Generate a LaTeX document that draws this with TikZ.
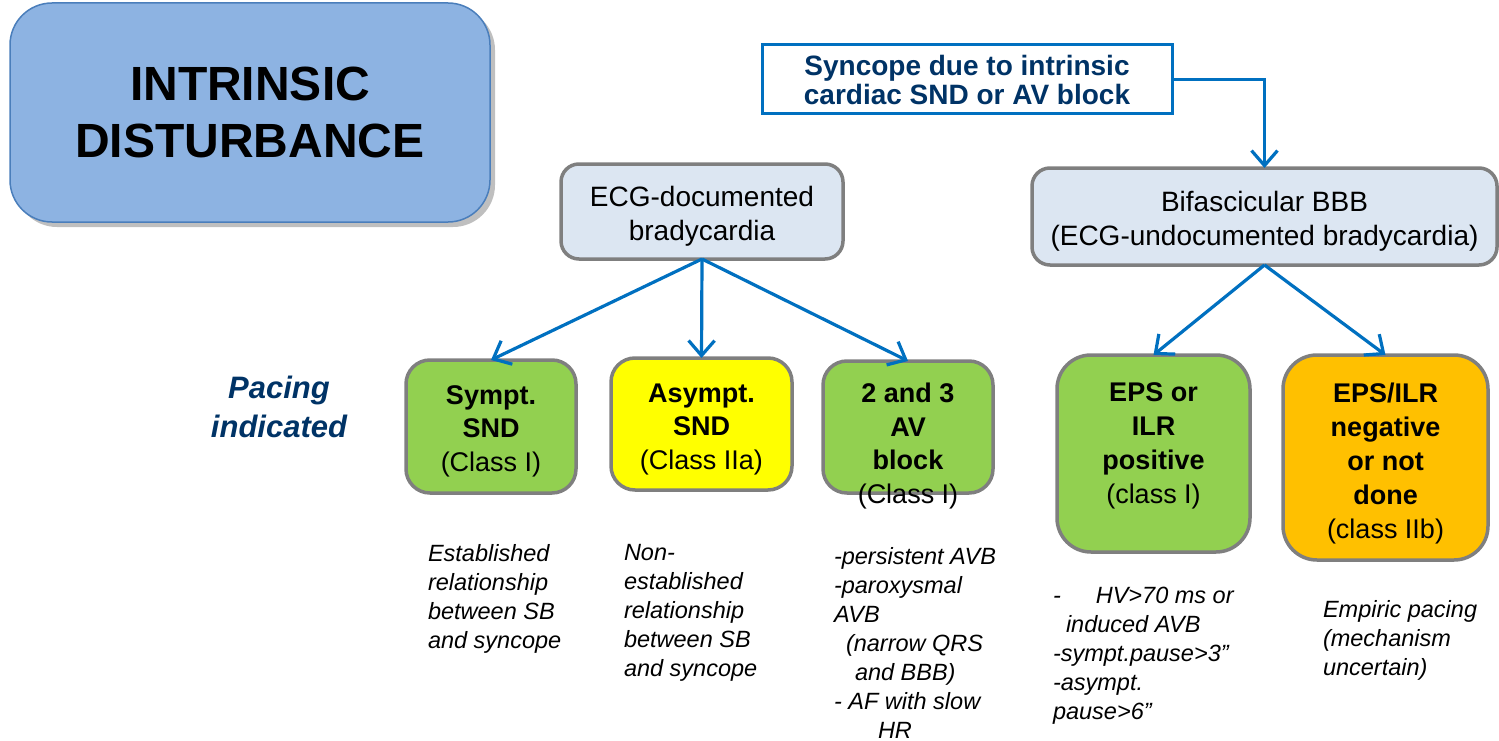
\documentclass[tikz,border=0pt]{standalone}
\usepackage{fontspec}
\setmainfont{Liberation Sans}
\usetikzlibrary{arrows.meta,shadows}
\definecolor{titlefill}{RGB}{141,179,226}
\definecolor{titleedge}{RGB}{74,126,187}
\definecolor{arrowblue}{RGB}{0,112,192}
\definecolor{navy}{RGB}{0,51,102}
\definecolor{boxgray}{RGB}{127,127,127}
\definecolor{lightfill}{RGB}{220,230,242}
\definecolor{greenfill}{RGB}{146,208,80}
\definecolor{yellowfill}{RGB}{255,255,0}
\definecolor{orangefill}{RGB}{255,192,0}
\newcommand{\upfix}[1]{\rule{0pt}{#1pt}}
\newcommand{\downfix}[1]{\rule[-#1pt]{0pt}{1pt}}
\begin{document}
\begin{tikzpicture}[x=1pt,y=-1pt,
  every node/.style={inner sep=0pt, outer sep=0pt},
  conn/.style={draw=arrowblue, line width=3.2pt, -{Straight Barb[length=15pt,width=26pt]}},
  titlebox/.style={draw=titleedge, line width=1.5pt, fill=titlefill, rounded corners=42pt,
    align=center, font=\fontsize{48}{57}\selectfont\bfseries,
    drop shadow={shadow xshift=5pt, shadow yshift=-5pt, opacity=0.25, fill=black}},
  syncbox/.style={draw=arrowblue, line width=3pt, fill=white, align=center,
    text=navy, font=\fontsize{28}{29}\selectfont\bfseries},
  graybox/.style={draw=boxgray, line width=3.5pt, fill=lightfill, rounded corners=18pt,
    align=center, font=\fontsize{28}{34}\selectfont},
  classbox/.style={draw=boxgray, line width=3.5pt, rounded corners=24pt,
    align=center, font=\fontsize{27}{33.5}\selectfont},
  bigclassbox/.style={classbox, rounded corners=34pt, font=\fontsize{27}{34}\selectfont},
  note/.style={anchor=north west, align=left, font=\fontsize{23.5}{29}\selectfont\itshape},
  sidelabel/.style={align=center, text=navy, font=\fontsize{31}{39}\selectfont\bfseries\itshape}
]
\useasboundingbox (0,0) rectangle (1499,741);

% title
\node[titlebox, minimum width=480pt, minimum height=219pt] (title) at (250,112.5) {INTRINSIC\\DISTURBANCE};

% top boxes
\node[syncbox, minimum width=410pt, minimum height=69pt] (sync) at (967,79.5)
  {Syncope due to intrinsic\\cardiac SND or AV block};
\node[graybox, minimum width=282pt, minimum height=95pt] (ecg) at (702,211.5)
  {\upfix{30}ECG-documented\\bradycardia};
\node[graybox, minimum width=465pt, minimum height=97pt] (bif) at (1264.5,216.5)
  {\upfix{30}Bifascicular BBB\\(ECG-undocumented bradycardia)};

% side label
\node[sidelabel] (pacing) at (279,406.5) {Pacing\\indicated};

% class boxes
\node[classbox, fill=greenfill, minimum width=170pt, minimum height=133pt] (sympt) at (491,426.5)
  {\upfix{28}\textbf{Sympt.}\\\textbf{SND}\\(Class I)};
\node[classbox, fill=yellowfill, minimum width=181pt, minimum height=132pt] (asympt) at (701.5,424)
  {\upfix{29}\textbf{Asympt.}\\\textbf{SND}\\(Class IIa)};
\node[classbox, fill=greenfill, minimum width=170pt, minimum height=132pt] (avb) at (908,427) {};
\node[align=center, font=\fontsize{27}{33.5}\selectfont] (avbtext) at (908,446)
  {\textbf{2 and 3}\\\textbf{AV}\\\textbf{block}\\(Class I)};
\node[bigclassbox, fill=greenfill, minimum width=193pt, minimum height=197pt] (eps) at (1153.5,453.5)
  {\textbf{EPS or}\\\textbf{ILR}\\\textbf{positive}\\(class I)\downfix{21}};
\node[bigclassbox, fill=orangefill, minimum width=205pt, minimum height=205pt] (neg) at (1385.5,457.5)
  {\upfix{32}\textbf{EPS/ILR}\\\textbf{negative}\\\textbf{or not}\\\textbf{done}\\(class IIb)};

% connectors
\draw[conn] (sync.east) -| (bif.north);
\draw[conn] (ecg.south) -- (sympt.north);
\draw[conn] (ecg.south) -- (asympt.north);
\draw[conn] (ecg.south) -- (avb.north);
\draw[conn] (bif.south) -- (eps.north);
\draw[conn] (bif.south) -- (neg.north);

% notes
\node[note] (n1) at (428,544.5) {Established\\relationship\\between SB\\and syncope};
\node[note] (n2) at (624,544.5) {Non-\\established\\relationship\\between SB\\and syncope};
\node[note] (n3) at (834,547.5) {-persistent AVB\\-paroxysmal\\AVB\\\hspace*{12pt}(narrow QRS\\\hspace*{21pt}and BBB)\\- AF with slow\\\hspace*{44pt}HR};
\node[note] (n4) at (1053,587.5) {-\hspace*{35pt}HV>70 ms or\\\hspace*{13pt}induced AVB\\-sympt.pause>3”\\-asympt.\\pause>6”};
\node[note] (n5) at (1323,600.5) {Empiric pacing\\(mechanism\\uncertain)};
\end{tikzpicture}
\end{document}
